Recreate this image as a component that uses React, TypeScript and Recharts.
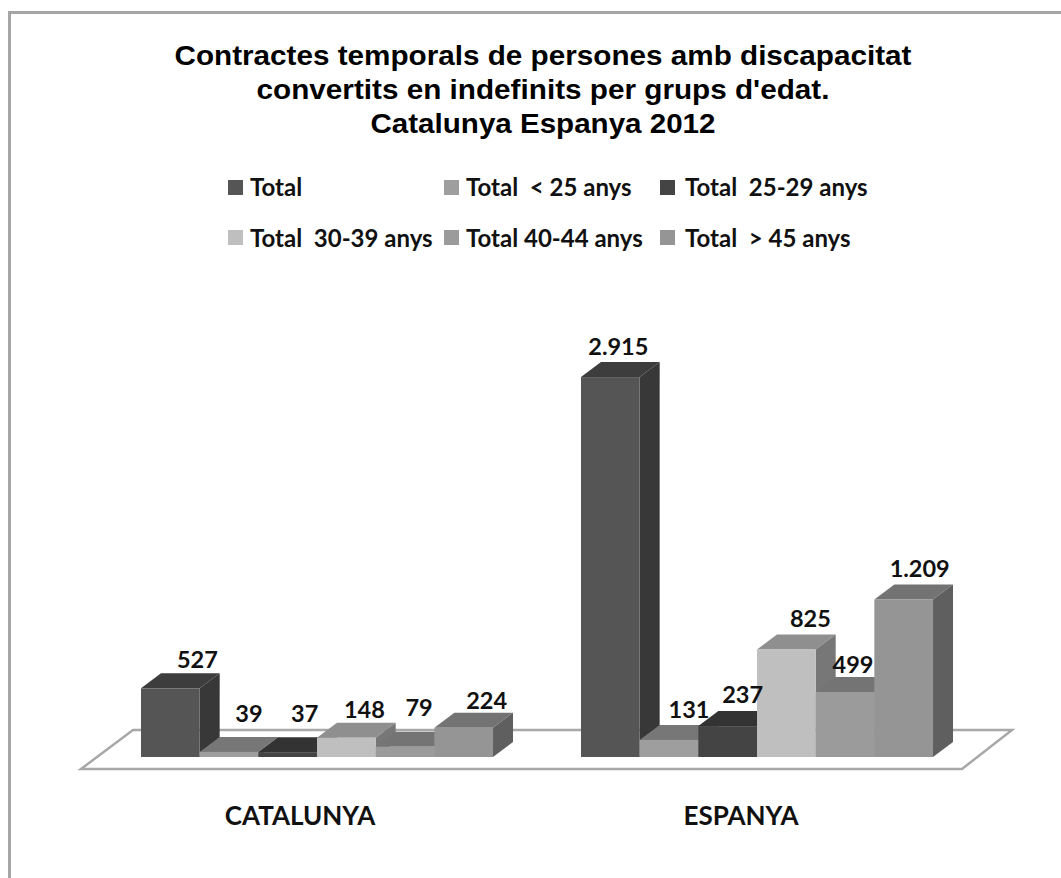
import React from "react";
import { BarChart, Bar, XAxis, YAxis, Legend, LabelList, Customized } from "recharts";

const categories = ["CATALUNYA", "ESPANYA"];
const seriesNames = ["Total", "Total  < 25 anys", "Total  25-29 anys", "Total  30-39 anys", "Total 40-44 anys", "Total  > 45 anys"];
const total = [527, 2915];
const under25 = [39, 131];
const from25to29 = [37, 237];
const from30to39 = [148, 825];
const from40to44 = [79, 499];
const over45 = [224, 1209];
const titleLines = ["Contractes temporals de persones amb discapacitat", "convertits en indefinits per grups d'edat.", "Catalunya Espanya 2012"];

const data = categories.map((name, i) => ({
  name,
  s0: total[i],
  s1: under25[i],
  s2: from25to29[i],
  s3: from30to39[i],
  s4: from40to44[i],
  s5: over45[i],
}));
const allSeries = [total, under25, from25to29, from30to39, from40to44, over45];

const FRONT = ["#555555", "#9e9e9e", "#444444", "#bfbfbf", "#9b9b9b", "#959595"];
const TOP = ["#3d3d3d", "#777777", "#333333", "#8f8f8f", "#747474", "#737373"];
const SIDE = ["#383838", "#6a6a6a", "#2e2e2e", "#777777", "#6b6b6b", "#5f5f5f"];
const DX = 20;
const DY = 15;
// label placement relative to each bar's front-top-centre: [dx, dy] per series, per category
const LABEL_NUDGE = [
  [[27, -20], [8, -22]],
  [[20, -30], [20, -22]],
  [[17, -30], [15, -23]],
  [[18, -20], [24, -22]],
  [[14, -31], [8, -19]],
  [[23, -19], [16, -22]],
];
const TICK_NUDGE = [-17, -16];
const TITLE_WIDTHS = [737, 573, 345];
const LEGEND_SWATCH_X = [228, 444, 660];
const LEGEND_TEXT_X = [250, 466, 685];
const LEGEND_Y = [187, 237.5];
const BODY_FONT = "Lato, 'Open Sans', sans-serif";

const fmt = (v: number) => (v >= 1000 ? `${Math.floor(v / 1000)}.${String(v % 1000).padStart(3, "0")}` : String(v));

function Box3D(props: any) {
  const { x, y, width, height, fill, top, side } = props;
  const b = y + height;
  const r = x + width;
  return (
    <g>
      <polygon points={`${x},${y} ${x + DX},${y - DY} ${r + DX},${y - DY} ${r},${y}`} fill={top} />
      <polygon points={`${r},${y} ${r + DX},${y - DY} ${r + DX},${b - DY} ${r},${b}`} fill={side} />
      <rect x={x} y={y} width={width} height={height} fill={fill} />
    </g>
  );
}

function Floor() {
  return (
    <polygon points="81,769 133,730 1012,730 962,769" fill="#ffffff" stroke="#a8a8a8" strokeWidth={2.5} />
  );
}

function Title() {
  return (
    <g fontFamily="'Liberation Sans', Arial, sans-serif" fontWeight={700} fontSize={27} fill="#000">
      {titleLines.map((t, i) => (
        <text key={t} x={543} y={64.5 + i * 34.3} textAnchor="middle" textLength={TITLE_WIDTHS[i]} lengthAdjust="spacingAndGlyphs">{t}</text>
      ))}
    </g>
  );
}

function Frame() {
  return (
    <g>
      <rect x={8} y={11} width={1053} height={3} fill="#a6a6a6" />
      <rect x={8} y={11} width={3} height={867} fill="#a6a6a6" />
    </g>
  );
}

function LegendGrid({ payload }: any) {
  const items = [...(payload || [])].sort((a: any, b: any) => seriesNames.indexOf(a.value) - seriesNames.indexOf(b.value));
  return (
    <div style={{ position: "relative", width: 1061, height: 0 }}>
      {items.map((p: any, i: number) => {
        const col = i % 3;
        const row = Math.floor(i / 3);
        return (
          <React.Fragment key={p.value}>
            <span style={{ position: "absolute", left: LEGEND_SWATCH_X[col], top: LEGEND_Y[row] - 7.5, width: 15, height: 15, background: p.color }} />
            <span style={{ position: "absolute", left: LEGEND_TEXT_X[col], top: LEGEND_Y[row] - 15, height: 30, lineHeight: "30px", whiteSpace: "pre", fontFamily: BODY_FONT, fontWeight: 700, fontSize: 24, color: "#111" }}>
              {p.value}
            </span>
          </React.Fragment>
        );
      })}
    </div>
  );
}

function CategoryTick({ x, y, payload, index }: any) {
  return (
    <text x={x + TICK_NUDGE[index]} y={y} dy={60} textAnchor="middle" fontFamily={BODY_FONT} fontWeight={700} fontSize={26} fill="#111">
      {payload.value}
    </text>
  );
}

function barLabel(seriesIdx: number) {
  return (p: any) => {
    const [dx, dy] = LABEL_NUDGE[seriesIdx][p.index];
    return (
      <text x={p.x + p.width / 2 + dx} y={p.y + dy} textAnchor="middle" fontFamily={BODY_FONT} fontWeight={700} fontSize={23.5} fill="#111">
        {fmt(allSeries[seriesIdx][p.index])}
      </text>
    );
  };
}

export default function App() {
  return (
    <div style={{ position: "absolute", left: 0, top: 0, width: 1061, height: 878, background: "#fff" }}>
      <BarChart
        width={1061}
        height={878}
        data={data}
        barGap={0}
        barSize={58.67}
        margin={{ top: 366, right: 84, bottom: 61, left: 97 }}
      >
        <Customized component={Frame} />
        <Customized component={Title} />
        <Customized component={Floor} />
        <XAxis dataKey="name" axisLine={false} tickLine={false} height={60} tick={<CategoryTick />} interval={0} />
        <YAxis hide domain={[0, 3000]} />
        <Legend
          verticalAlign="middle"
          align="center"
          content={<LegendGrid />}
          wrapperStyle={{ position: "absolute", left: 0, top: 0, width: 1061, height: 0, margin: 0 }}
        />
        {seriesNames.map((name, i) => (
          <Bar
            key={name}
            dataKey={`s${i}`}
            name={name}
            fill={FRONT[i]}
            isAnimationActive={false}
            shape={(p: any) => <Box3D {...p} top={TOP[i]} side={SIDE[i]} />}
          >
            <LabelList dataKey={`s${i}`} content={barLabel(i)} />
          </Bar>
        ))}
      </BarChart>
    </div>
  );
}
